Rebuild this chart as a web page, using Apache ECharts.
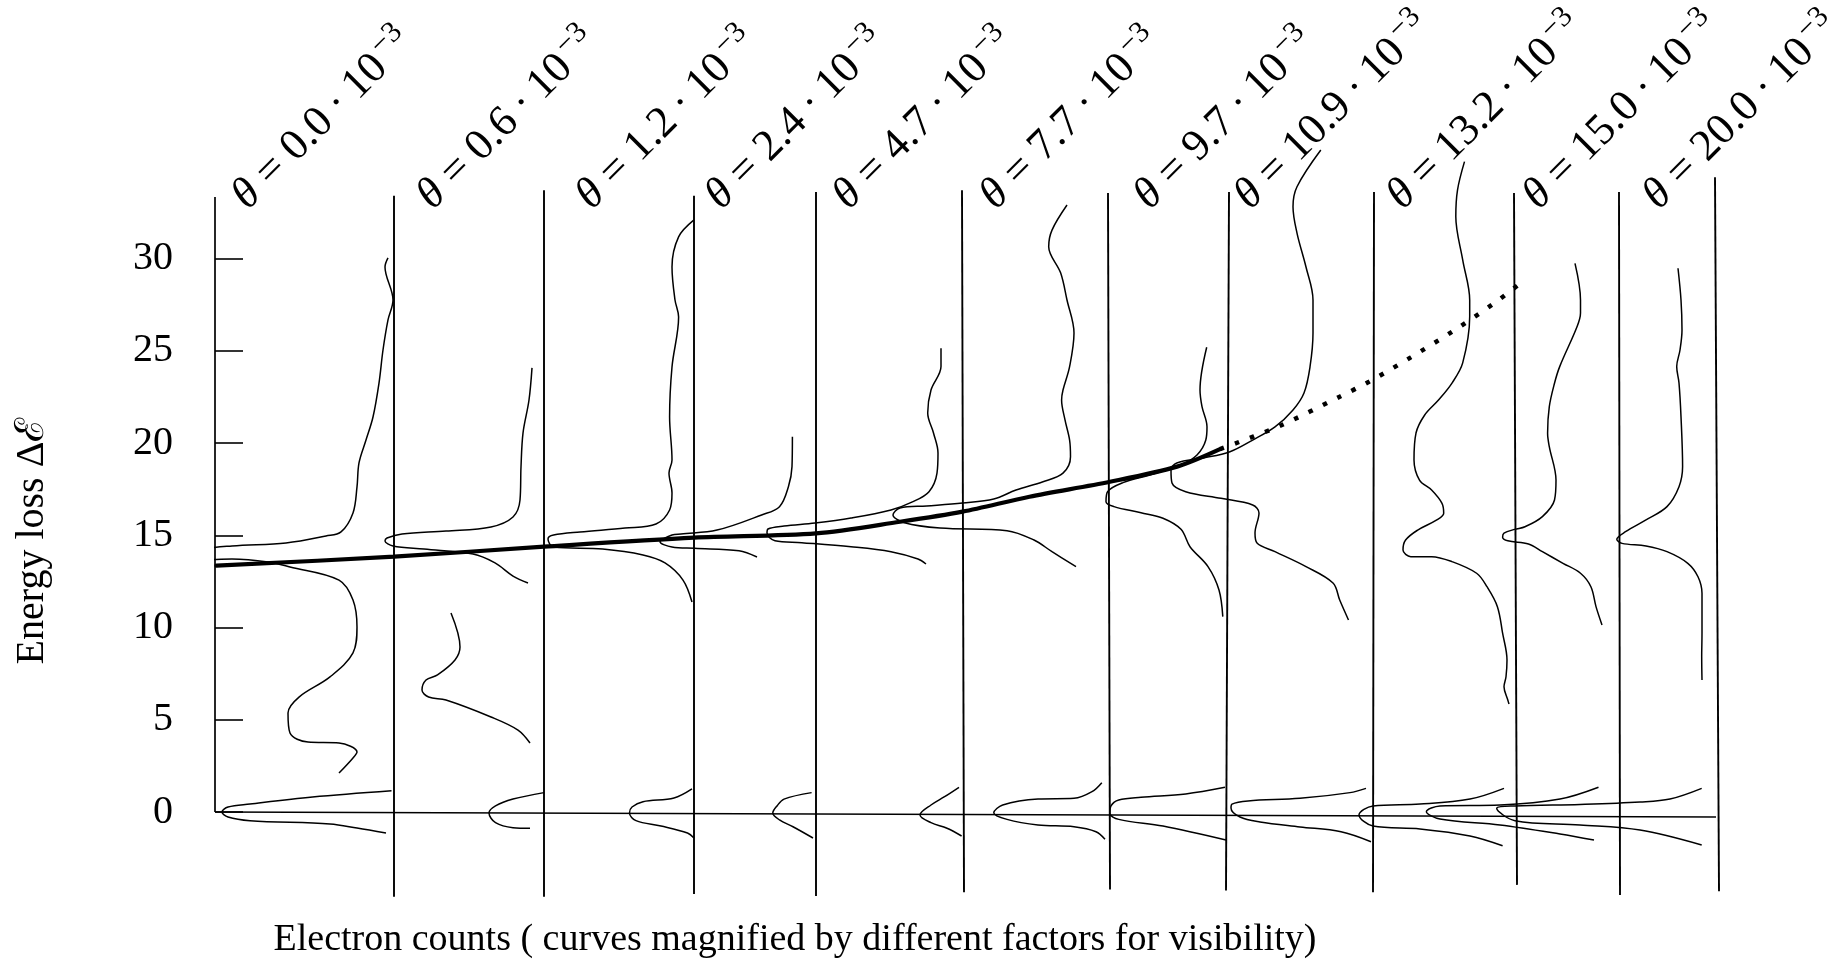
<!DOCTYPE html>
<html>
<head>
<meta charset="utf-8">
<script src="https://cdn.jsdelivr.net/npm/echarts@6/dist/echarts.min.js"></script>
<style>
  html, body { margin: 0; padding: 0; background: #fff; }
  #chart { width: 1843px; height: 961px; }
</style>
</head>
<body>
<div id="chart"></div>
<script>
// ---------------------------------------------------------------
// Energy-loss spectra at increasing scattering angle θ.
// Each spectrum hangs from its own zero-count line; counts grow to
// the left of that line.  Points are [counts, energy loss].
// ---------------------------------------------------------------
const energyTicks = [0, 5, 10, 15, 20, 25, 30];
const thetaValues = ['0.0', '0.6', '1.2', '2.4', '4.7', '7.7', '9.7', '10.9', '13.2', '15.0', '20.0'];

// zero-count line of every spectrum on the horizontal (counts) axis
const spectrumOffset = [179, 329, 479, 601, 747, 893, 1014, 1159, 1299, 1404, 1500];
const offsetAtFoot   = [179, 329, 479, 601, 749, 895, 1011, 1158, 1302, 1405, 1504];
const lineTopE    = [33.4, 33.7, 33.4, 33.6, 33.7, 33.55, 33.6, 33.6, 33.55, 33.6, 34.4];
const lineBottomE = [-4.6, -4.6, -4.45, -4.55, -4.35, -4.2, -4.25, -4.35, -3.95, -4.5, -4.3];
const energyAxisTop = 33.33;
const zeroLine = [[0, 0], [1501, -0.27]];

// θ = 0.0
const loss00 = [[6,30.03],[9,29.54],[1,27.75],[6,26.67],[11,25.04],[15,23.25],[21,21.41],[28,20.16],[35,18.92],[37,17.62],[41,16.21],[53,15.18],[68,14.96],[108,14.58],[162,14.42],[193,14.2],[198,13.88],[193,13.66],[162,13.71],[126,13.55],[104,13.28],[55,12.57],[41,11.49],[37,10.03],[41,8.62],[64,7.32],[95,6.23],[106,5.37],[104,4.28],[86,3.79],[55,3.74],[37,3.25],[41,2.93],[55,2.11]];
const zero00 = [[2.5,1.15],[81.5,0.81],[144,0.43],[166,0.27],[172,0],[166,-0.27],[144,-0.47],[64,-0.65],[37,-0.87],[8,-1.14]];
// θ = 0.6
const loss06 = [[12,24.07],[15,22.33],[21,20.54],[23,18.7],[24,16.91],[31,15.99],[53,15.45],[98,15.23],[142,15.07],[157,14.85],[159,14.69],[151,14.42],[120,14.25],[71,13.98],[49,13.5],[31,12.79],[16,12.41]];
const low06 = [[93,10.79],[84,8.94],[89,8.24],[106.5,7.43],[118,7.15],[122,6.61],[115.4,6.23],[98,6.07],[53,5.15],[26,4.44],[14,3.74]];
const zero06 = [[0,1.05],[31,0.7],[48.5,0.33],[55,-0.05],[48.5,-0.58],[31,-0.85],[14,-0.88]];
// θ = 1.2
const loss12 = [[0,32.09],[15.4,31.17],[22,29.54],[19,27.75],[15.4,26.83],[22,24.12],[24.4,21.41],[22,19.08],[25,18.37],[22,17.29],[24.4,16.37],[38,15.61],[69,15.39],[114,15.18],[140.4,15.01],[146,14.8],[140.4,14.36],[91.3,14.25],[51,13.93],[29,13.5],[11,12.57],[2,11.38]];
const zero12 = [[2,1.25],[20,0.76],[51,0.56],[62,0.27],[64.5,-0.05],[58,-0.47],[33,-0.76],[6.5,-1.14],[0,-1.41]];
// θ = 2.4
const loss24 = [[23.6,20.34],[24,18.72],[27.6,17.63],[36.5,16.55],[54.4,16.1],[99,15.28],[135,15.07],[144,15.01],[156,14.65],[144,14.36],[121.4,14.29],[77,14.16],[59,13.82]];
const zero24 = [[4.4,1.05],[32,0.7],[39,0.33],[43.2,-0.05],[36.5,-0.43],[23,-0.8],[3,-1.41]];
// θ = 4.7
const loss47 = [[21,25.13],[21,24.14],[31,22.87],[34.3,21.63],[28.5,20.54],[24,19.46],[25,18.37],[33,17.36],[49,16.82],[71,16.37],[111,15.93],[147,15.66],[178,15.5],[194,15.34],[195,15.12],[187,14.7],[160.2,14.6],[111,14.38],[71,14.11],[44,13.71],[36,13.44]];
const zero47 = [[3,1.34],[17.4,0.83],[31,0.38],[42,-0.16],[31,-0.58],[15,-0.88],[0.4,-1.3]];
// θ = 7.7
const loss77 = [[41,32.9],[56,31.54],[59.3,30.64],[47.3,29.21],[41,27.75],[34,25.96],[38.4,24.14],[45,22.87],[46.4,22.33],[43,21.25],[38.4,20.16],[37.5,19.26],[45,18.37],[65,17.9],[92,17.45],[114.25,16.96],[145.5,16.75],[181.2,16.59],[208,16.48],[215,16.1],[203.5,15.68],[168,15.39],[101,15.25],[74,14.74],[56,14.11],[32,13.3]];
const zero77 = [[6.2,1.59],[16,1.1],[34,0.74],[70,0.7],[105.3,0.38],[114.25,-0.04],[101,-0.4],[70,-0.7],[34,-0.8],[12,-1.07],[3,-1.48]];
// θ = 9.7
const loss97 = [[22.3,25.19],[29,22.87],[27,21.97],[22,20.88],[23.2,20.16],[32,19.35],[48,18.81],[79,18.27],[106,17.85],[121.4,17.36],[123,16.82],[115,16.55],[88,16.22],[66,15.92],[48,15.32],[39,14.38],[21,13.3],[10,12.03],[6.2,10.59]];
const zero97 = [[4,1.34],[43.3,0.98],[88,0.8],[110.25,0.65],[118,0.33],[119.2,-0.07],[110.25,-0.4],[66,-0.76],[3,-1.52]];
// θ = 10.9
const loss109 = [[53.2,35.88],[77,33.89],[81,32.81],[77,31.38],[68,29.54],[61,27.75],[61,25.96],[64,24.12],[70,22.71],[81,21.79],[99,20.87],[121.3,20.16],[144,19.53],[170.4,19.19],[197.2,18.92],[203,18.54],[202,17.83],[188.3,17.36],[153,17.0],[121.3,16.64],[115,16.21],[119,15.12],[117,14.58],[99,14.11],[68,13.3],[41,12.41],[34.3,11.49],[25.5,10.41]];
const zero109 = [[8,1.28],[24,1.05],[74,0.74],[126,0.6],[142,0.43],[143,0.22],[134,-0.27],[114,-0.54],[74,-0.81],[33,-1.07],[3,-1.61]];
// θ = 13.2
const loss132 = [[49.5,35.25],[56.5,33.71],[58.2,32.27],[51.3,29.92],[44.3,27.75],[44.3,26.85],[51.3,24.34],[62,23.25],[75.5,22.33],[89.3,21.52],[98,20.54],[100,19.08],[94.5,17.99],[82.4,17.45],[72,16.73],[70.3,16.19],[77.2,15.83],[96.3,15.28],[108.4,14.74],[111,14.2],[103.2,13.84],[82.4,13.84],[62,13.57],[37.4,12.94],[27,12.21],[16.6,11.13],[11.4,9.69],[7,8.24],[8,7.33],[10,6.79],[6.2,6.07],[5,5.85]];
const zero132 = [[10,1.28],[44,0.7],[94,0.43],[141,0.33],[155,-0.16],[141,-0.76],[94,-0.92],[44,-1.3],[11.4,-1.83]];
// θ = 15.0
const loss150 = [[44,29.74],[38.5,27.75],[38.5,27.05],[42,26.3],[59.3,24.14],[64.5,23.24],[69.7,21.97],[71.4,20.53],[69.7,19.8],[63,17.99],[64.5,16.91],[76.6,16.01],[94,15.46],[104.3,15.32],[115,15.11],[116.4,14.89],[111.2,14.7],[90.5,14.53],[76.6,14.11],[56,13.48],[38.5,12.94],[28.1,12.21],[23,11.13],[17,10.14]];
const zero150 = [[20.5,1.34],[59,0.7],[119,0.38],[179,0.33],[192.6,0.02],[179,-0.38],[119,-0.7],[59,-1.19],[25,-1.52]];
// θ = 20.0
const loss200 = [[37,29.47],[34,27.75],[33,26.12],[35,25.04],[38.3,24.14],[36,23.25],[34,21.43],[32.4,18.72],[36,17.63],[48,16.55],[69,15.83],[89.5,15.19],[98.2,14.78],[93,14.56],[69,14.42],[48,14.11],[27.2,13.48],[17,12.75],[13,11.85],[13,9.69],[13.3,8.42],[13,7.15]];
const zero200 = [[13.3,1.28],[45,0.7],[75,0.54],[135,0.41],[200,0.33],[218.3,0.2],[200,-0.47],[135,-0.7],[75,-0.98],[13.3,-1.79]];

// plasmon peak position versus angle (axis units), measured and extrapolated
const peakTrend = [[1.5,13.35],[179,13.84],[329,14.38],[479,14.87],[601,15.1],[685,15.73],[747.5,16.28],[814.5,17.09],[895,17.9],[962,18.72],[1005,19.67]];
const peakExtrapolated = [[1005,19.67],[1064.5,20.92],[1124.7,22.51],[1154,23.32],[1195.8,24.64],[1237,26.03],[1278,27.53],[1303,28.56]];

const spectra = [
  [loss00, zero00], [loss06, low06, zero06], [loss12, zero12], [loss24, zero24],
  [loss47, zero47], [loss77, zero77], [loss97, zero97], [loss109, zero109],
  [loss132, zero132], [loss150, zero150], [loss200, zero200]
];

// ---------------------------------------------------------------
const FONT = '"Liberation Serif", "Times New Roman", "DejaVu Serif", serif';
const layout = {
  labelAnchorX: [34, 219, 378, 507.5, 635, 782, 936, 1036.5, 1189, 1325, 1445],
  labelAnchorE: 32.52,
  labelSize: 44, supSize: 30, supRaise: 12, supGap: 4
};

const chart = echarts.init(document.getElementById('chart'), null, { renderer: 'canvas' });

function stroke(data, width, smooth, extra) {
  return {
    type: 'line', data: data, symbol: 'none', showSymbol: false,
    smooth: smooth, clip: false, silent: true, animation: false,
    lineStyle: Object.assign({ color: '#000', width: width }, extra || {})
  };
}

const series = [];
// energy axis line
series.push(stroke([[0, 0], [0, energyAxisTop]], 1.7, false));
// zero-loss line across all spectra
series.push(stroke(zeroLine, 1.7, false));
// zero-count lines
spectrumOffset.forEach((x, i) => {
  series.push(stroke([[x, lineTopE[i]], [offsetAtFoot[i], lineBottomE[i]]], 1.9, false));
});
// spectra
spectra.forEach((segments, i) => {
  segments.forEach(seg => {
    series.push(stroke(seg.map(p => [spectrumOffset[i] - p[0], p[1]]), 1.5, 0.35));
  });
});
// peak dispersion: measured (solid) and extrapolated (dotted)
series.push(stroke(peakTrend, 4.2, 0.3, { cap: 'round' }));
series.push(stroke(peakExtrapolated, 4.5, 0.3, { type: [4.5, 11.5], cap: 'butt' }));

chart.setOption({
  animation: false,
  backgroundColor: '#fff',
  // one counts unit per pixel; the axis runs a little past the last spectrum
  grid: { left: 215, right: 88, top: 258.5, bottom: 149 },
  xAxis: { type: 'value', min: 0, max: 1540, show: false },
  yAxis: {
    type: 'value', min: energyTicks[0], max: energyTicks[energyTicks.length - 1], interval: 5,
    axisLine: { show: false },
    splitLine: { show: false },
    axisTick: { show: true, inside: true, length: 28, lineStyle: { color: '#000', width: 1.6 } },
    axisLabel: { color: '#000', fontSize: 40, fontFamily: FONT, margin: 42 }
  },
  series: series
});

// ---------------------------------------------------------------
// texts: axis titles and rotated angle labels
const measureCtx = document.createElement('canvas').getContext('2d');
function textWidth(str, font) { measureCtx.font = font; return measureCtx.measureText(str).width; }

const graphics = [];
graphics.push({
  type: 'text', x: 32, y: 541, rotation: Math.PI / 2, silent: true,
  style: { text: 'Energy loss \u0394\u2130', fill: '#000', font: '40px ' + FONT, align: 'center', verticalAlign: 'middle' }
});
graphics.push({
  type: 'text', x: 795, y: 940, silent: true,
  style: { text: 'Electron counts ( curves magnified by different factors for visibility)', fill: '#000', font: '38px ' + FONT, align: 'center', verticalAlign: 'middle' }
});

const ang = Math.PI / 4;
const u = [Math.cos(ang), -Math.sin(ang)];     // along the text baseline
const v = [-Math.sin(ang), -Math.cos(ang)];    // perpendicular, "up" for the text
const mainFont = layout.labelSize + 'px ' + FONT;
const italicFont = 'italic ' + layout.labelSize + 'px ' + FONT;
thetaValues.forEach((val, i) => {
  const base = chart.convertToPixel({ gridIndex: 0 }, [layout.labelAnchorX[i], layout.labelAnchorE]);
  const rest = ' = ' + val + '\u2009\u00b7\u200910';
  const w = textWidth('\u03b8', italicFont) + textWidth(rest, mainFont);
  const mid = 0.3 * layout.labelSize;
  const mx = base[0] + v[0] * mid, my = base[1] + v[1] * mid;
  graphics.push({
    type: 'text', x: mx, y: my, rotation: ang, silent: true,
    style: {
      text: '{t|\u03b8}' + rest, fill: '#000', font: mainFont, align: 'left', verticalAlign: 'middle',
      rich: { t: { fontStyle: 'italic', fontSize: layout.labelSize, fontFamily: FONT, fill: '#000' } }
    }
  });
  const sx = mx + u[0] * (w + layout.supGap) + v[0] * layout.supRaise;
  const sy = my + u[1] * (w + layout.supGap) + v[1] * layout.supRaise;
  graphics.push({
    type: 'text', x: sx, y: sy, rotation: ang, silent: true,
    style: { text: '\u22123', fill: '#000', font: layout.supSize + 'px ' + FONT, align: 'left', verticalAlign: 'middle' }
  });
});
chart.setOption({ graphic: graphics });
</script>
</body>
</html>
